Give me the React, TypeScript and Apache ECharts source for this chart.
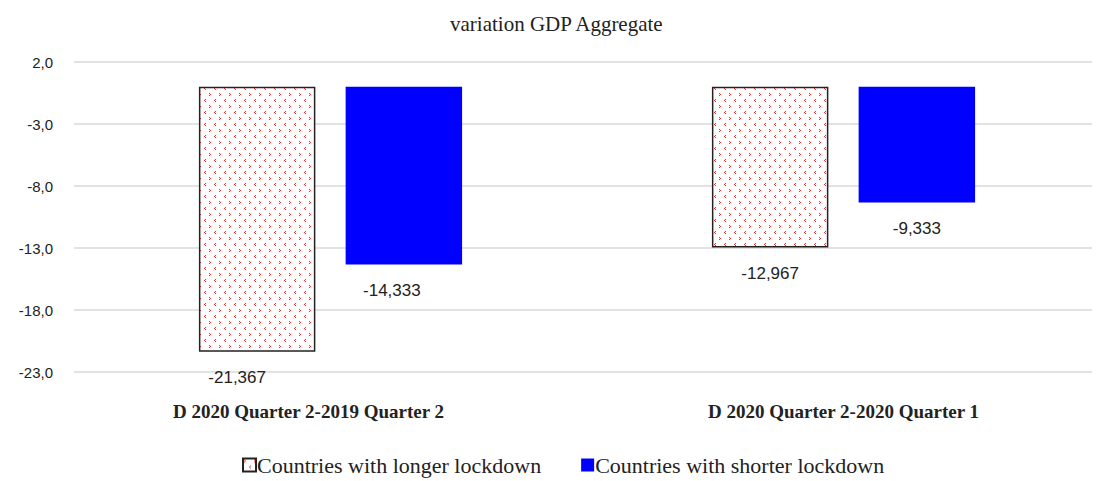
import React, { useEffect, useRef } from "react";
import * as echarts from "echarts";

const categories = ["D 2020 Quarter 2-2019 Quarter 2", "D 2020 Quarter 2-2020 Quarter 1"];
const seriesNames = ["Countries with longer lockdown", "Countries with shorter lockdown"];
const longerLockdown = [-21.367, -12.967];
const shorterLockdown = [-14.333, -9.333];
const yTicks = [-23, -18, -13, -8, -3, 2];
const longerLabelShift = [-20, 0];
const shorterLabelShift = [-12, 0];

function makePattern(): HTMLCanvasElement {
  const c = document.createElement("canvas");
  c.width = 10;
  c.height = 12;
  const ctx = c.getContext("2d")!;
  ctx.fillStyle = "#ffffff";
  ctx.fillRect(0, 0, 10, 12);
  ctx.fillStyle = "#ff2a2a";
  ctx.fillRect(1, 1, 1, 1);
  ctx.fillRect(2, 2, 1, 1);
  ctx.fillRect(1, 3, 1, 1);
  ctx.fillRect(7, 7, 1, 1);
  ctx.fillRect(6, 8, 1, 1);
  ctx.fillRect(7, 9, 1, 1);
  return c;
}

const fmt = (v: number, d: number) => v.toFixed(d).replace(".", ",");

const labelStyle = {
  show: true,
  position: "bottom",
  distance: 17,
  formatter: (p: any) => fmt(p.value, 3),
  fontFamily: "Liberation Sans",
  fontSize: 17,
  color: "#222",
};

export default function App() {
  const ref = useRef<HTMLDivElement>(null);
  useEffect(() => {
    if (!ref.current) return;
    const chart = echarts.init(ref.current, undefined, { renderer: "svg" });
    const pattern = makePattern();
    chart.setOption({
      animation: false,
      backgroundColor: "#ffffff",
      title: {
        text: "variation GDP Aggregate",
        left: 437,
        top: 0,
        textStyle: { fontFamily: "Liberation Serif", fontSize: 21, fontWeight: "normal", color: "#222" },
      },
      grid: { left: 66, right: -6, top: 54, bottom: 109 },
      legend: {
        bottom: 0,
        left: 229,
        itemWidth: 13,
        itemHeight: 13,
        itemGap: 40,
        icon: "rect",
        textStyle: { fontFamily: "Liberation Serif", fontSize: 22, color: "#222", padding: [0, 0, 0, -4] },
        data: seriesNames,
      },
      xAxis: {
        type: "category",
        data: categories,
        axisLine: { show: false },
        axisTick: { show: false },
        axisLabel: {
          margin: 30,
          fontFamily: "Liberation Serif",
          fontWeight: "bold",
          fontSize: 19,
          color: "#222",
          formatter: (v: string, i: number) => (i === 0 ? "{s|" + v + "}" : "{n|" + v + "}"),
          rich: {
            s: { fontFamily: "Liberation Serif", fontWeight: "bold", fontSize: 19, color: "#222", padding: [0, 44, 0, 0] },
            n: { fontFamily: "Liberation Serif", fontWeight: "bold", fontSize: 19, color: "#222" },
          },
        },
      },
      yAxis: {
        type: "value",
        min: -23,
        max: 2,
        axisLine: { show: false },
        axisTick: { show: false, customValues: yTicks },
        splitLine: { lineStyle: { color: "#d9d9d9", width: 1.5 } },
        axisLabel: {
          customValues: yTicks,
          margin: 21,
          formatter: (v: number) => fmt(v, 1),
          fontFamily: "Liberation Sans",
          fontSize: 15,
          color: "#222",
        },
      },
      series: [
        {
          name: seriesNames[0],
          type: "bar",
          data: longerLockdown.map((v, i) => ({ value: v, label: { offset: [longerLabelShift[i], 0] } })),
          barWidth: "22.7%",
          barGap: "26%",
          itemStyle: { color: { image: pattern, repeat: "repeat" }, borderColor: "#222", borderWidth: 1.5 },
          label: labelStyle,
        },
        {
          name: seriesNames[1],
          type: "bar",
          data: shorterLockdown.map((v, i) => ({ value: v, label: { offset: [shorterLabelShift[i], 0] } })),
          barWidth: "22.7%",
          itemStyle: { color: "#0000ff" },
          label: labelStyle,
        },
      ],
    });
    return () => chart.dispose();
  }, []);
  return <div ref={ref} style={{ width: 1092, height: 473 }} />;
}
